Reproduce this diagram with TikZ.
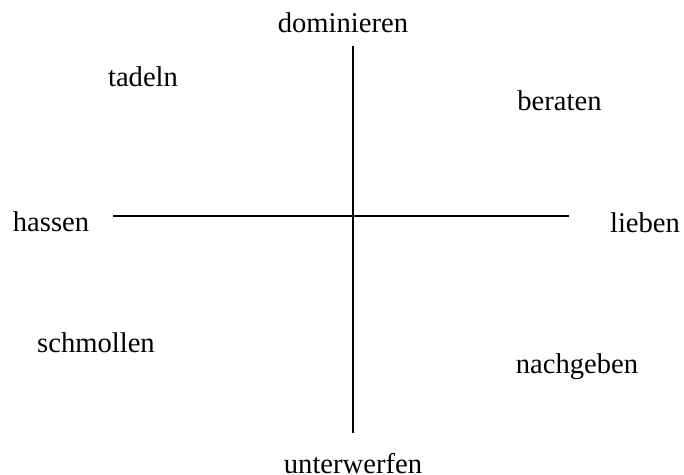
\documentclass[tikz,border=0pt]{standalone}
\usepackage{fontspec}
\setmainfont{Liberation Serif}
\usetikzlibrary{positioning}

\tikzset{
  wort/.style={anchor=base, inner sep=0pt, font=\fontsize{14.3}{17}\selectfont},
  achse/.style={line width=0.8pt},
}

\begin{document}
\begin{tikzpicture}[x=0.5pt, y=-0.5pt]
\useasboundingbox (0,0) rectangle (684,475);

\coordinate (O) at (353,216);
\coordinate (oben) at (353,46);
\coordinate (unten) at (353,433);
\coordinate (links) at (113,216);
\coordinate (rechts) at (569,216);

\draw[achse] (oben) -- (unten);
\draw[achse] (links) -- (rechts);

\node[wort] (dom) at (343,33) {dominieren};
\node[wort] (unt) at (353,473) {unterwerfen};
\node[wort] (has) at (51,232) {hassen};
\node[wort] (lie) at (645,233) {lieben};
\node[wort] (tad) at (143,87) {tadeln};
\node[wort] (ber) at (559.5,111) {beraten};
\node[wort] (sch) at (96,352) {schmollen};
\node[wort] (nac) at (577,373) {nachgeben};

\end{tikzpicture}
\end{document}
